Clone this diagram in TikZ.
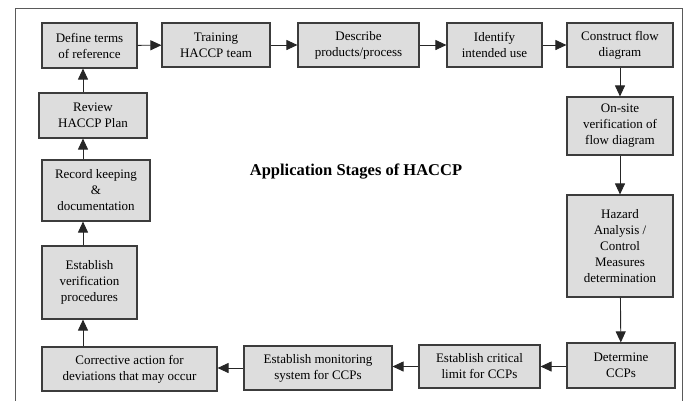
\documentclass[tikz,border=0pt]{standalone}
\usepackage{fontspec}
\setmainfont{Liberation Serif}
\usetikzlibrary{arrows.meta}
\definecolor{boxfill}{RGB}{221,221,221}
\definecolor{boxline}{RGB}{60,60,60}
\definecolor{frameline}{RGB}{90,90,90}
\begin{document}
\begin{tikzpicture}[x=1pt,y=-1pt]
\tikzstyle{stage}=[draw=boxline,fill=boxfill,line width=1.1pt,align=center,inner sep=0pt,font=\fontsize{13}{16}\selectfont]
\tikzstyle{flow}=[-{Triangle[length=11pt,width=10pt]},line width=0.9pt,draw=black!85]

\useasboundingbox (0,0) rectangle (690,400);
\draw [frameline,line width=1pt] (15,8) rectangle (682,420);

\node[font=\fontsize{16.5}{20}\selectfont\bfseries] (title) at (356,172) {Application Stages of HACCP};

% top row
\node[stage,minimum width=95pt,minimum height=45pt] (def) at (89.5,45.5) {Define terms\\of reference};
\node[stage,minimum width=108pt,minimum height=44pt] (train) at (216,45) {Training\\HACCP team};
\node[stage,minimum width=121pt,minimum height=44pt] (desc) at (358.5,45) {Describe\\products/process};
\node[stage,minimum width=95pt,minimum height=44pt] (ident) at (494.5,45) {Identify\\intended use};
\node[stage,minimum width=106pt,minimum height=44pt] (constr) at (620,45) {Construct flow\\diagram};

% right column
\node[stage,minimum width=106pt,minimum height=58pt] (onsite) at (620,126) {On-site\\verification of\\flow diagram};
\node[stage,minimum width=106pt,minimum height=102pt] (hazard) at (620,246) {Hazard\\Analysis /\\Control\\Measures\\determination};

% bottom row
\node[stage,minimum width=108pt,minimum height=45pt] (detccp) at (621,365.5) {Determine\\CCPs};
\node[stage,minimum width=121pt,minimum height=43pt] (crit) at (479.5,366.5) {Establish critical\\limit for CCPs};
\node[stage,minimum width=148pt,minimum height=44pt] (monit) at (318,368) {Establish monitoring\\system for CCPs};
\node[stage,minimum width=175pt,minimum height=44pt] (corr) at (129.5,369) {Corrective action for\\deviations that may occur};

% left column
\node[stage,minimum width=95pt,minimum height=73pt] (verif) at (89.5,282.5) {Establish\\verification\\procedures};
\node[stage,minimum width=108pt,minimum height=61pt] (record) at (96,190.5) {Record keeping\\\&\\documentation};
\node[stage,minimum width=108pt,minimum height=45pt] (review) at (93,115.5) {Review\\HACCP Plan};

\coordinate (lcol) at (83,0);

\draw [flow] (def) -- (train);
\draw [flow] (train) -- (desc);
\draw [flow] (desc) -- (ident);
\draw [flow] (ident) -- (constr);

\draw [flow] (constr) -- (onsite);
\draw [flow] (onsite) -- (hazard);
\draw [flow] (hazard) -- (detccp);

\draw [flow] (detccp.west |- crit) -- (crit);
\draw [flow] (crit) -- (crit -| monit.east);
\draw [flow] (monit.west) -- (monit -| corr.east);

\draw [flow] (corr.north -| lcol) -- (verif.south -| lcol);
\draw [flow] (verif.north -| lcol) -- (record.south -| lcol);
\draw [flow] (record.north -| lcol) -- (review.south -| lcol);
\draw [flow] (review.north -| lcol) -- (def.south -| lcol);

\end{tikzpicture}
\end{document}
